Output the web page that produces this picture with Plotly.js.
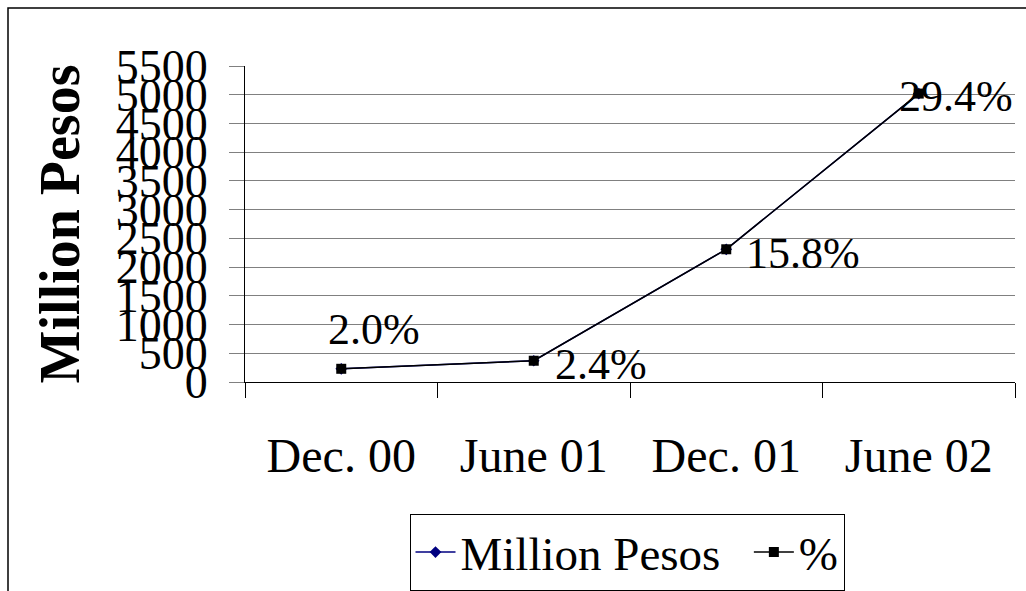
<!DOCTYPE html>
<html>
<head>
<meta charset="utf-8">
<script src="https://cdn.plot.ly/plotly-3.0.1.min.js"></script>
<style>
  html, body { margin: 0; padding: 0; background: #fff; }
  #chart { width: 1026px; height: 591px; }
</style>
</head>
<body>
<div id="chart"></div>
<script>
// ---- data ----
const categories = ['Dec. 00', 'June 01', 'Dec. 01', 'June 02'];
const millionPesos = [230, 370, 2310, 5020];
const pctLabels = ['2.0%', '2.4%', '15.8%', '29.4%'];
const seriesNames = ['Million Pesos', '%'];
const yTicks = [0, 500, 1000, 1500, 2000, 2500, 3000, 3500, 4000, 4500, 5000, 5500];

// ---- styling / placement (not data) ----
const SERIF = '"Liberation Serif", "Times New Roman", serif';
const labelPlacement = [
  {xanchor: 'center', xshift: 33, yshift: 39},
  {xanchor: 'left', xshift: 19, yshift: -4},
  {xanchor: 'left', xshift: 18, yshift: -4},
  {xanchor: 'left', xshift: -22, yshift: -3}
];

const traces = [
  {
    type: 'scatter', mode: 'lines+markers',
    name: seriesNames[0] + '\u2002', x: categories, y: millionPesos,
    line: {color: '#000080', width: 1.5},
    marker: {symbol: 'diamond', size: 9, color: '#000080'}
  },
  {
    type: 'scatter', mode: 'lines+markers',
    name: seriesNames[1], x: categories, y: millionPesos,
    line: {color: '#000000', width: 1.5},
    marker: {symbol: 'square', size: 10, color: '#000000'}
  }
];

const annotations = pctLabels.map((t, i) => Object.assign({
  x: categories[i], y: millionPesos[i], xref: 'x', yref: 'y',
  text: t, showarrow: false, yanchor: 'middle',
  font: {family: SERIF, size: 44, color: '#000'}
}, labelPlacement[i]));

const L = 245, R = 11, T = 66, B = 209;
const W = 1026 - L - R, H = 591 - T - B;

const layout = {
  width: 1026, height: 591,
  margin: {l: L, r: R, t: T, b: B, pad: 0, autoexpand: false},
  paper_bgcolor: '#ffffff', plot_bgcolor: '#ffffff',
  showlegend: true,
  legend: {
    orientation: 'h', x: (627 - L) / W, xanchor: 'center',
    y: (591 - B - 514) / H, yanchor: 'top',
    bordercolor: '#000', borderwidth: 1, bgcolor: '#fff',
    font: {family: SERIF, size: 47, color: '#000'},
    itemwidth: 40, tracegroupgap: 0
  },
  xaxis: {
    type: 'category', tickson: 'boundaries',
    ticks: 'outside', ticklen: 15, tickcolor: '#000', tickwidth: 1,
    showline: true, linecolor: '#000', linewidth: 1,
    showgrid: false, zeroline: false,
    tickfont: {family: SERIF, size: 48, color: '#000'},
    ticklabelstandoff: 31,
    range: [-0.5, 3.5], fixedrange: true
  },
  yaxis: {
    range: [0, 5500], tickmode: 'array', tickvals: yTicks,
    ticktext: yTicks.map(String),
    ticks: 'outside', ticklen: 15, tickcolor: '#808080', tickwidth: 1,
    showline: true, linecolor: '#000', linewidth: 1,
    showgrid: true, gridcolor: '#808080', gridwidth: 1,
    zeroline: false,
    tickfont: {family: SERIF, size: 46, color: '#000'},
    ticklabelstandoff: 12,
    title: {text: '<b>Million Pesos</b>', font: {family: SERIF, size: 56, color: '#000'}, standoff: 18},
    fixedrange: true
  },
  annotations: annotations,
  shapes: [{
    type: 'rect', xref: 'paper', yref: 'paper', layer: 'above',
    x0: (8 - L) / W, x1: 3, y0: -3, y1: (591 - B - 8) / H,
    line: {color: '#000', width: 1.5}, fillcolor: 'rgba(0,0,0,0)'
  }]
};

Plotly.newPlot('chart', traces, layout, {displayModeBar: false, staticPlot: true});
</script>
</body>
</html>
